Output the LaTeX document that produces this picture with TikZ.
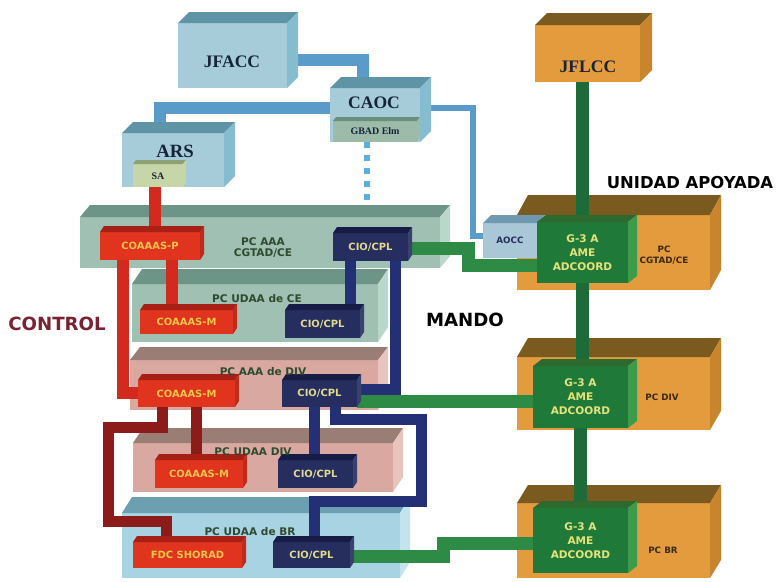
\documentclass[tikz,border=0pt]{standalone}
\usepackage{fontspec}
\setmainfont{Liberation Serif}
\newfontfamily\dvs{DejaVu Sans}
\usetikzlibrary{fit}
\definecolor{lbF}{HTML}{A6CCDA}\definecolor{lbT}{HTML}{5F94A6}\definecolor{lbS}{HTML}{86BCD0}
\definecolor{gbF}{HTML}{9CBBA9}\definecolor{gbT}{HTML}{6B8F7E}
\definecolor{saF}{HTML}{C6D6A6}\definecolor{saT}{HTML}{8EA276}
\definecolor{orF}{HTML}{E39B3E}\definecolor{orT}{HTML}{7B5A1F}\definecolor{orS}{HTML}{C9842E}
\definecolor{g3F}{HTML}{1F7A3A}\definecolor{g3T}{HTML}{2C6A30}\definecolor{g3S}{HTML}{3D9C4A}
\definecolor{aoF}{HTML}{A9C7D6}\definecolor{aoT}{HTML}{6F99AE}\definecolor{aoS}{HTML}{88B2C6}
\definecolor{sgF}{HTML}{9FC0B2}\definecolor{sgT}{HTML}{6C9587}\definecolor{sgS}{HTML}{B9D8CA}
\definecolor{spF}{HTML}{D9A9A1}\definecolor{spT}{HTML}{9A7E76}\definecolor{spS}{HTML}{E7C4BD}
\definecolor{sbF}{HTML}{A7D3E3}\definecolor{sbT}{HTML}{6CA0B0}\definecolor{sbS}{HTML}{C3E3EF}
\definecolor{rdF}{HTML}{E0341F}\definecolor{rdT}{HTML}{A62016}\definecolor{rdS}{HTML}{BF2A1A}
\definecolor{nvF}{HTML}{252E5E}\definecolor{nvT}{HTML}{161C45}\definecolor{nvS}{HTML}{39416F}
\definecolor{barBlue}{HTML}{5A9CC9}\definecolor{barDot}{HTML}{5BB0E2}
\definecolor{barGreen}{HTML}{2E8B45}\definecolor{barDkGreen}{HTML}{1E6B3A}
\definecolor{barRed}{HTML}{D22A1C}\definecolor{barDkRed}{HTML}{8C1C1A}
\definecolor{barNavy}{HTML}{233075}
\definecolor{txtY}{HTML}{F3C64A}\definecolor{txtLY}{HTML}{E2D98C}\definecolor{txtG}{HTML}{E6E27A}
\definecolor{txtDG}{HTML}{2F4A2E}\definecolor{txtBox}{HTML}{16243A}\definecolor{ctrl}{HTML}{7A2232}
\definecolor{txtOr}{HTML}{3A2A10}
\newcommand\cubeface[6]{% name, front, top, side, dx, dy
  \fill[#2] (#1.north west) rectangle (#1.south east);
  \fill[#3] (#1.north west) -- ++(#5,-#6) -- ([shift={(#5,-#6)}]#1.north east) -- (#1.north east) -- cycle;
  \fill[#4] (#1.north east) -- ++(#5,-#6) -- ([shift={(#5,-#6)}]#1.south east) -- (#1.south east) -- cycle;
}
\tikzset{
  area/.style={inner sep=0pt, outer sep=0pt},
  bar/.style={line cap=butt, line join=miter},
  bluebar/.style={bar, draw=barBlue, line width=3.6mm},
  thinblue/.style={bar, draw=barBlue, line width=1.8mm},
  dotbar/.style={draw=barDot, line width=1.8mm, dash pattern=on 1.8mm off 2.1mm},
  greenbar/.style={bar, draw=barGreen, line width=3.9mm},
  dkgreenbar/.style={bar, draw=barDkGreen, line width=3.9mm},
  redbar/.style={bar, draw=barRed, line width=3.6mm},
  dkredbar/.style={bar, draw=barDkRed, line width=3.3mm},
  navybar/.style={bar, draw=barNavy, line width=3.3mm},
  seriflab/.style={font=\bfseries\fontsize{15}{17}\selectfont, text=txtBox},
  smallserif/.style={font=\bfseries\fontsize{8.5}{9}\selectfont, text=txtBox},
  redlab/.style={font=\dvs\bfseries\fontsize{8.5}{10}\selectfont, text=txtY},
  navylab/.style={font=\dvs\bfseries\fontsize{8.5}{10}\selectfont, text=txtLY},
  slablab/.style={font=\dvs\bfseries\fontsize{9}{9.5}\selectfont, text=txtDG, align=center},
  g3lab/.style={font=\dvs\bfseries\fontsize{9}{12}\selectfont, text=txtG, align=center},
  orlab/.style={font=\dvs\bfseries\fontsize{7.5}{9}\selectfont, text=txtOr, align=center},
  biglab/.style={font=\dvs\bfseries\fontsize{15.5}{18}\selectfont},
}
\begin{document}
\begin{tikzpicture}[x=0.3mm,y=-0.3mm]
\fill[white] (0,0) rectangle (779,581);
\useasboundingbox (0,0) rectangle (779,581);
% ---- areas (named nodes) ----
\path node[area, fit={(178,23) (287,88)}] (jfacc) {};
\path node[area, fit={(330,88) (420,142)}] (caoc) {};
\path node[area, fit={(333,121) (417,142)}] (gbad) {};
\path node[area, fit={(122,133) (224,187)}] (ars) {};
\path node[area, fit={(133,164) (183,187)}] (sa) {};
\path node[area, fit={(535,25) (640,82)}] (jflcc) {};
\path node[area, fit={(517,215) (710,290)}] (pccg) {};
\path node[area, fit={(517,357) (710,430)}] (pcdiv) {};
\path node[area, fit={(517,503) (710,578)}] (pcbr) {};
\path node[area, fit={(537,222) (628,283)}] (g3a) {};
\path node[area, fit={(533,366) (628,428)}] (g3b) {};
\path node[area, fit={(533,508) (628,573)}] (g3c) {};
\path node[area, fit={(483,223) (537,258)}] (aocc) {};
\path node[area, fit={(80,217) (440,268)}] (pcaaa) {};
\path node[area, fit={(132,284) (378,342)}] (pcudaace) {};
\path node[area, fit={(130,360) (378,410)}] (pcaaadiv) {};
\path node[area, fit={(133,443) (393,492)}] (pcudaadiv) {};
\path node[area, fit={(122,513) (400,578)}] (pcudaabr) {};
\path node[area, fit={(100,232) (200,260)}] (coaaasp) {};
\path node[area, fit={(140,310) (233,334)}] (coaaasmA) {};
\path node[area, fit={(333,233) (408,261)}] (cioA) {};
\path node[area, fit={(285,310) (360,338)}] (cioB) {};
\path node[area, fit={(138,380) (235,407)}] (coaaasmB) {};
\path node[area, fit={(282,380) (357,407)}] (cioC) {};
\path node[area, fit={(155,460) (243,488)}] (coaaasmC) {};
\path node[area, fit={(278,460) (353,488)}] (cioD) {};
\path node[area, fit={(133,542) (242,568)}] (fdc) {};
\path node[area, fit={(273,542) (350,568)}] (cioE) {};
% ---- bend coordinates ----
\coordinate (b1) at (363,60);
\coordinate (b2) at (160,108);
\coordinate (b3) at (473,108);
\coordinate (b4) at (473,236);
\coordinate (dx) at (367,0);
\coordinate (rx0) at (155,0);
\coordinate (rx1) at (172,0);
\coordinate (r2) at (123,393);
\coordinate (rx3) at (196,0);
\coordinate (r4) at (162,427);
\coordinate (r5) at (108,427);
\coordinate (r6) at (108,521);
\coordinate (r7) at (166,521);
\coordinate (nx1) at (350,0);
\coordinate (n2) at (395,389);
\coordinate (nx3) at (314,0);
\coordinate (n4) at (335,419);
\coordinate (n5) at (421,419);
\coordinate (n6) at (421,501);
\coordinate (n7) at (314,501);
\coordinate (c1) at (468,248);
\coordinate (c2) at (468,265);
\coordinate (c3) at (443,556);
\coordinate (c4) at (443,543);
\coordinate (cy2) at (0,401);
% ---- blue links ----
\draw[bluebar] (jfacc.east |- b1) -- (b1) -- (b1 |- caoc.north);
\draw[bluebar] (b2 |- ars.north) -- (b2) -- (b2 -| caoc.west);
\draw[thinblue] (caoc.east |- b3) -- (b3) -- (b4) -- (b4 -| aocc.west);
\draw[dotbar] (gbad.south -| dx) -- (dx |- pcaaa.north);
% ---- upper cubes ----
\cubeface{jfacc}{lbF}{lbT}{lbS}{11}{11}
\cubeface{caoc}{lbF}{lbT}{lbS}{11}{11}
\cubeface{gbad}{gbF}{gbT}{gbF}{3}{4}
\cubeface{ars}{lbF}{lbT}{lbS}{11}{11}
\cubeface{sa}{saF}{saT}{saF}{3}{4}
\cubeface{jflcc}{orF}{orT}{orS}{12}{12}
% ---- slabs ----
\cubeface{pcaaa}{sgF}{sgT}{sgS}{10}{12}
\cubeface{pcudaace}{sgF}{sgT}{sgS}{10}{15}
\cubeface{pcaaadiv}{spF}{spT}{spS}{10}{13}
\cubeface{pcudaadiv}{spF}{spT}{spS}{10}{15}
\cubeface{pcudaabr}{sbF}{sbT}{sbS}{10}{16}
% ---- orange command posts ----
\cubeface{pccg}{orF}{orT}{orS}{11}{20}
\cubeface{pcdiv}{orF}{orT}{orS}{11}{19}
\cubeface{pcbr}{orF}{orT}{orS}{11}{18}
% ---- green vertical chain ----
\draw[dkgreenbar] (g3a.north |- jflcc.south) -- (g3a.north);
\draw[dkgreenbar] (g3a.south) -- (g3a.south |- g3b.north);
\draw[dkgreenbar] (g3b.south) -- (g3b.south |- g3c.north);
% ---- red links ----
\draw[redbar] (sa.south -| rx0) -- (rx0 |- coaaasp.north);
\draw[redbar] (coaaasp.south -| rx1) -- (rx1 |- coaaasmA.north);
\draw[redbar] (coaaasp.south -| r2) -- (r2) -- (r2 -| coaaasmB.west);
\draw[dkredbar] (coaaasmB.south -| rx3) -- (rx3 |- coaaasmC.north);
\draw[dkredbar] (coaaasmB.south -| r4) -- (r4) -- (r5) -- (r6) -- (r7) -- (r7 |- fdc.north);
% ---- navy links ----
\draw[navybar] (cioA.south -| nx1) -- (nx1 |- cioB.north);
\draw[navybar] (cioA.south -| n2) -- (n2) -- (n2 -| cioC.east);
\draw[navybar] (cioC.south -| nx3) -- (nx3 |- cioD.north);
\draw[navybar] (cioC.south -| n4) -- (n4) -- (n5) -- (n6) -- (n7) -- (n7 |- cioE.north);
% ---- green links ----
\draw[greenbar] (cioA.east |- c1) -- (c1) -- (c2) -- (c2 -| g3a.west);
\draw[greenbar] (cioC.east |- cy2) -- (cy2 -| g3b.west);
\draw[greenbar] (cioE.east |- c3) -- (c3) -- (c4) -- (c4 -| g3c.west);
% ---- small boxes ----
\cubeface{coaaasp}{rdF}{rdT}{rdS}{4}{6}
\cubeface{coaaasmA}{rdF}{rdT}{rdS}{4}{6}
\cubeface{coaaasmB}{rdF}{rdT}{rdS}{4}{6}
\cubeface{coaaasmC}{rdF}{rdT}{rdS}{4}{6}
\cubeface{fdc}{rdF}{rdT}{rdS}{4}{6}
\cubeface{cioA}{nvF}{nvT}{nvS}{4}{6}
\cubeface{cioB}{nvF}{nvT}{nvS}{4}{6}
\cubeface{cioC}{nvF}{nvT}{nvS}{4}{6}
\cubeface{cioD}{nvF}{nvT}{nvS}{4}{6}
\cubeface{cioE}{nvF}{nvT}{nvS}{4}{6}
\cubeface{aocc}{aoF}{aoT}{aoS}{8}{8}
\cubeface{g3a}{g3F}{g3T}{g3S}{9}{7}
\cubeface{g3b}{g3F}{g3T}{g3S}{9}{7}
\cubeface{g3c}{g3F}{g3T}{g3S}{9}{7}
% ---- texts ----
\node[seriflab] (jfacc-t) at (232,62) {JFACC};
\node[seriflab] (caoc-t) at (374,103) {CAOC};
\node[smallserif] (gbad-t) at (gbad) {GBAD Elm};
\node[seriflab, font=\bfseries\fontsize{16}{17}\selectfont] (ars-t) at (175,151) {ARS};
\node[smallserif] (sa-t) at ([yshift=-0.3mm]sa) {SA};
\node[seriflab] (jflcc-t) at (588,67) {JFLCC};
\node[orlab] (pccg-t) at (664,255) {PC\\CGTAD/CE};
\node[orlab] (pcdiv-t) at (662,397) {PC DIV};
\node[orlab] (pcbr-t) at (663,550) {PC BR};
\node[g3lab] (g3a-t) at (g3a) {G-3 A\\AME\\ADCOORD};
\node[g3lab] (g3b-t) at (g3b) {G-3 A\\AME\\ADCOORD};
\node[g3lab] (g3c-t) at (g3c) {G-3 A\\AME\\ADCOORD};
\node[font=\dvs\bfseries\fontsize{7.5}{8}\selectfont, text=nvF] (aocc-t) at (aocc) {AOCC};
\node[slablab] (pcaaa-t) at (263,248) {PC AAA\\CGTAD/CE};
\node[slablab] (pcudaace-t) at (257,299) {PC UDAA de CE};
\node[slablab] (pcaaadiv-t) at (263,372) {PC AAA de DIV};
\node[slablab] (pcudaadiv-t) at (253,452) {PC UDAA DIV};
\node[slablab] (pcudaabr-t) at (250,532) {PC UDAA de BR};
\node[redlab] (coaaasp-t) at (coaaasp) {COAAAS-P};
\node[redlab] (coaaasmA-t) at (coaaasmA) {COAAAS-M};
\node[redlab] (coaaasmB-t) at (coaaasmB) {COAAAS-M};
\node[redlab] (coaaasmC-t) at (coaaasmC) {COAAAS-M};
\node[redlab] (fdc-t) at (fdc) {FDC SHORAD};
\node[navylab] (cioA-t) at (cioA) {CIO/CPL};
\node[navylab] (cioB-t) at (cioB) {CIO/CPL};
\node[navylab] (cioC-t) at (cioC) {CIO/CPL};
\node[navylab] (cioD-t) at (cioD) {CIO/CPL};
\node[navylab] (cioE-t) at (cioE) {CIO/CPL};
\node[biglab, text=ctrl] (control) at (57,324) {CONTROL};
\node[biglab] (mando) at (465,320) {MANDO};
\node[biglab, font=\dvs\bfseries\fontsize{14}{17}\selectfont] (unidad) at (690,183) {UNIDAD APOYADA};
\end{tikzpicture}
\end{document}
